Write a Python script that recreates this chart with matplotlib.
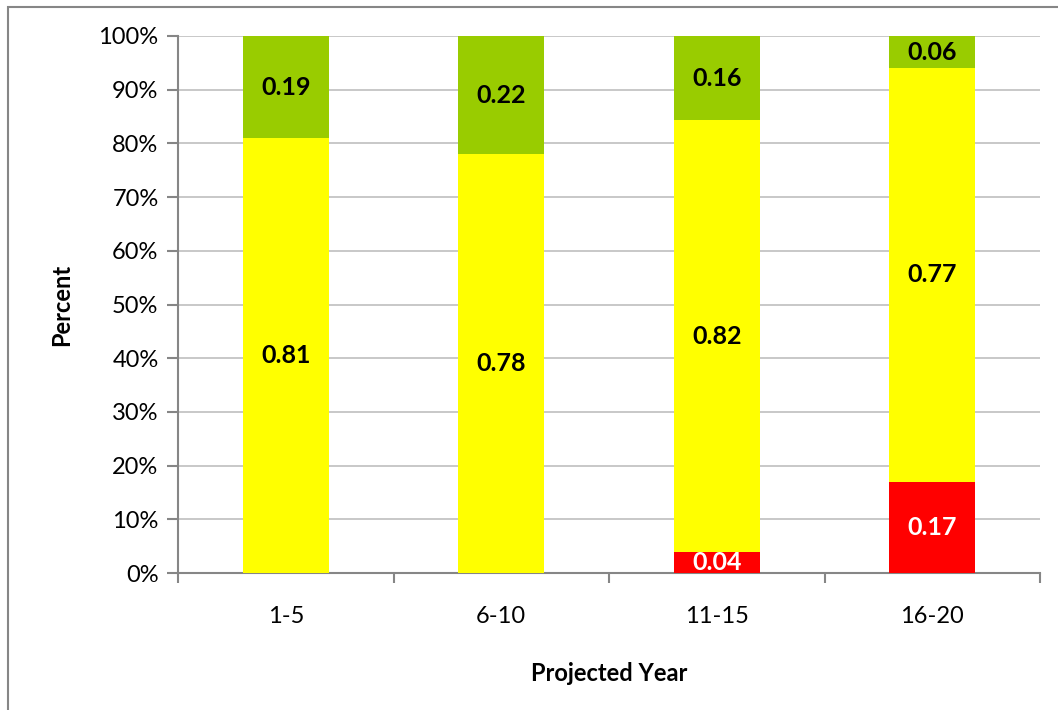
import numpy as np
import matplotlib.pyplot as plt
from matplotlib.patches import Rectangle
from matplotlib.ticker import PercentFormatter

# data
years = ["1-5", "6-10", "11-15", "16-20"]
red_vals = [0.0, 0.0, 0.04, 0.17]
yellow_vals = [0.81, 0.78, 0.82, 0.77]
green_vals = [0.19, 0.22, 0.16, 0.06]

plt.rcParams['font.family'] = ['Lato', 'DejaVu Sans']

fig = plt.figure(figsize=(10.58, 7.10), dpi=100)
ax = fig.add_axes([178 / 1058, 1 - 573 / 710, (1040 - 178) / 1058, (573 - 36) / 710])

# outer chart border (left and top visible)
fig.add_artist(Rectangle((8 / 1058, -0.1), 1.2, 1.1 - 7 / 710, transform=fig.transFigure,
                         fill=False, edgecolor='#868686', linewidth=1.5))

x = np.arange(len(years))
tot = np.array(red_vals) + np.array(yellow_vals) + np.array(green_vals)
series = [(red_vals, '#FF0000', 'white'),
          (yellow_vals, '#FFFF00', 'black'),
          (green_vals, '#99CC00', 'black')]

bottom = np.zeros(len(years))
for vals, col, tcol in series:
    h = np.array(vals) / tot
    ax.bar(x, h, bottom=bottom, width=0.4, color=col, zorder=3)
    for i in range(len(years)):
        if vals[i] > 0:
            ax.text(x[i], bottom[i] + h[i] / 2, "{:.2f}".format(vals[i]),
                    ha='center', va='center', color=tcol, fontsize=18,
                    fontweight='bold', zorder=4, clip_on=True)
    bottom = bottom + h

ax.set_xlim(-0.5, 3.5)
ax.set_ylim(0, 1)
ax.set_yticks(np.arange(0, 1.01, 0.1))
ax.yaxis.set_major_formatter(PercentFormatter(1.0, decimals=0))
ax.grid(axis='y', color='#BFBFBF', linewidth=1.2, zorder=0)

ax.set_xticks(x)
ax.set_xticklabels(years)
ax.set_xticks(np.arange(-0.5, 3.6, 1), minor=True)
ax.tick_params(axis='x', which='major', length=0, pad=24, labelsize=17)
ax.tick_params(axis='x', which='minor', length=7, width=1.5, color='#868686')
ax.tick_params(axis='y', length=8, width=1.5, color='#868686', labelsize=17, pad=6)

for s in ['top', 'right']:
    ax.spines[s].set_visible(False)
for s in ['left', 'bottom']:
    ax.spines[s].set_color('#868686')
    ax.spines[s].set_linewidth(1.5)

ax.set_ylabel("Percent", fontsize=17, fontweight='bold', labelpad=18)
ax.set_xlabel("Projected Year", fontsize=17, fontweight='bold', labelpad=25)

fig.savefig("out.png", dpi=100)
